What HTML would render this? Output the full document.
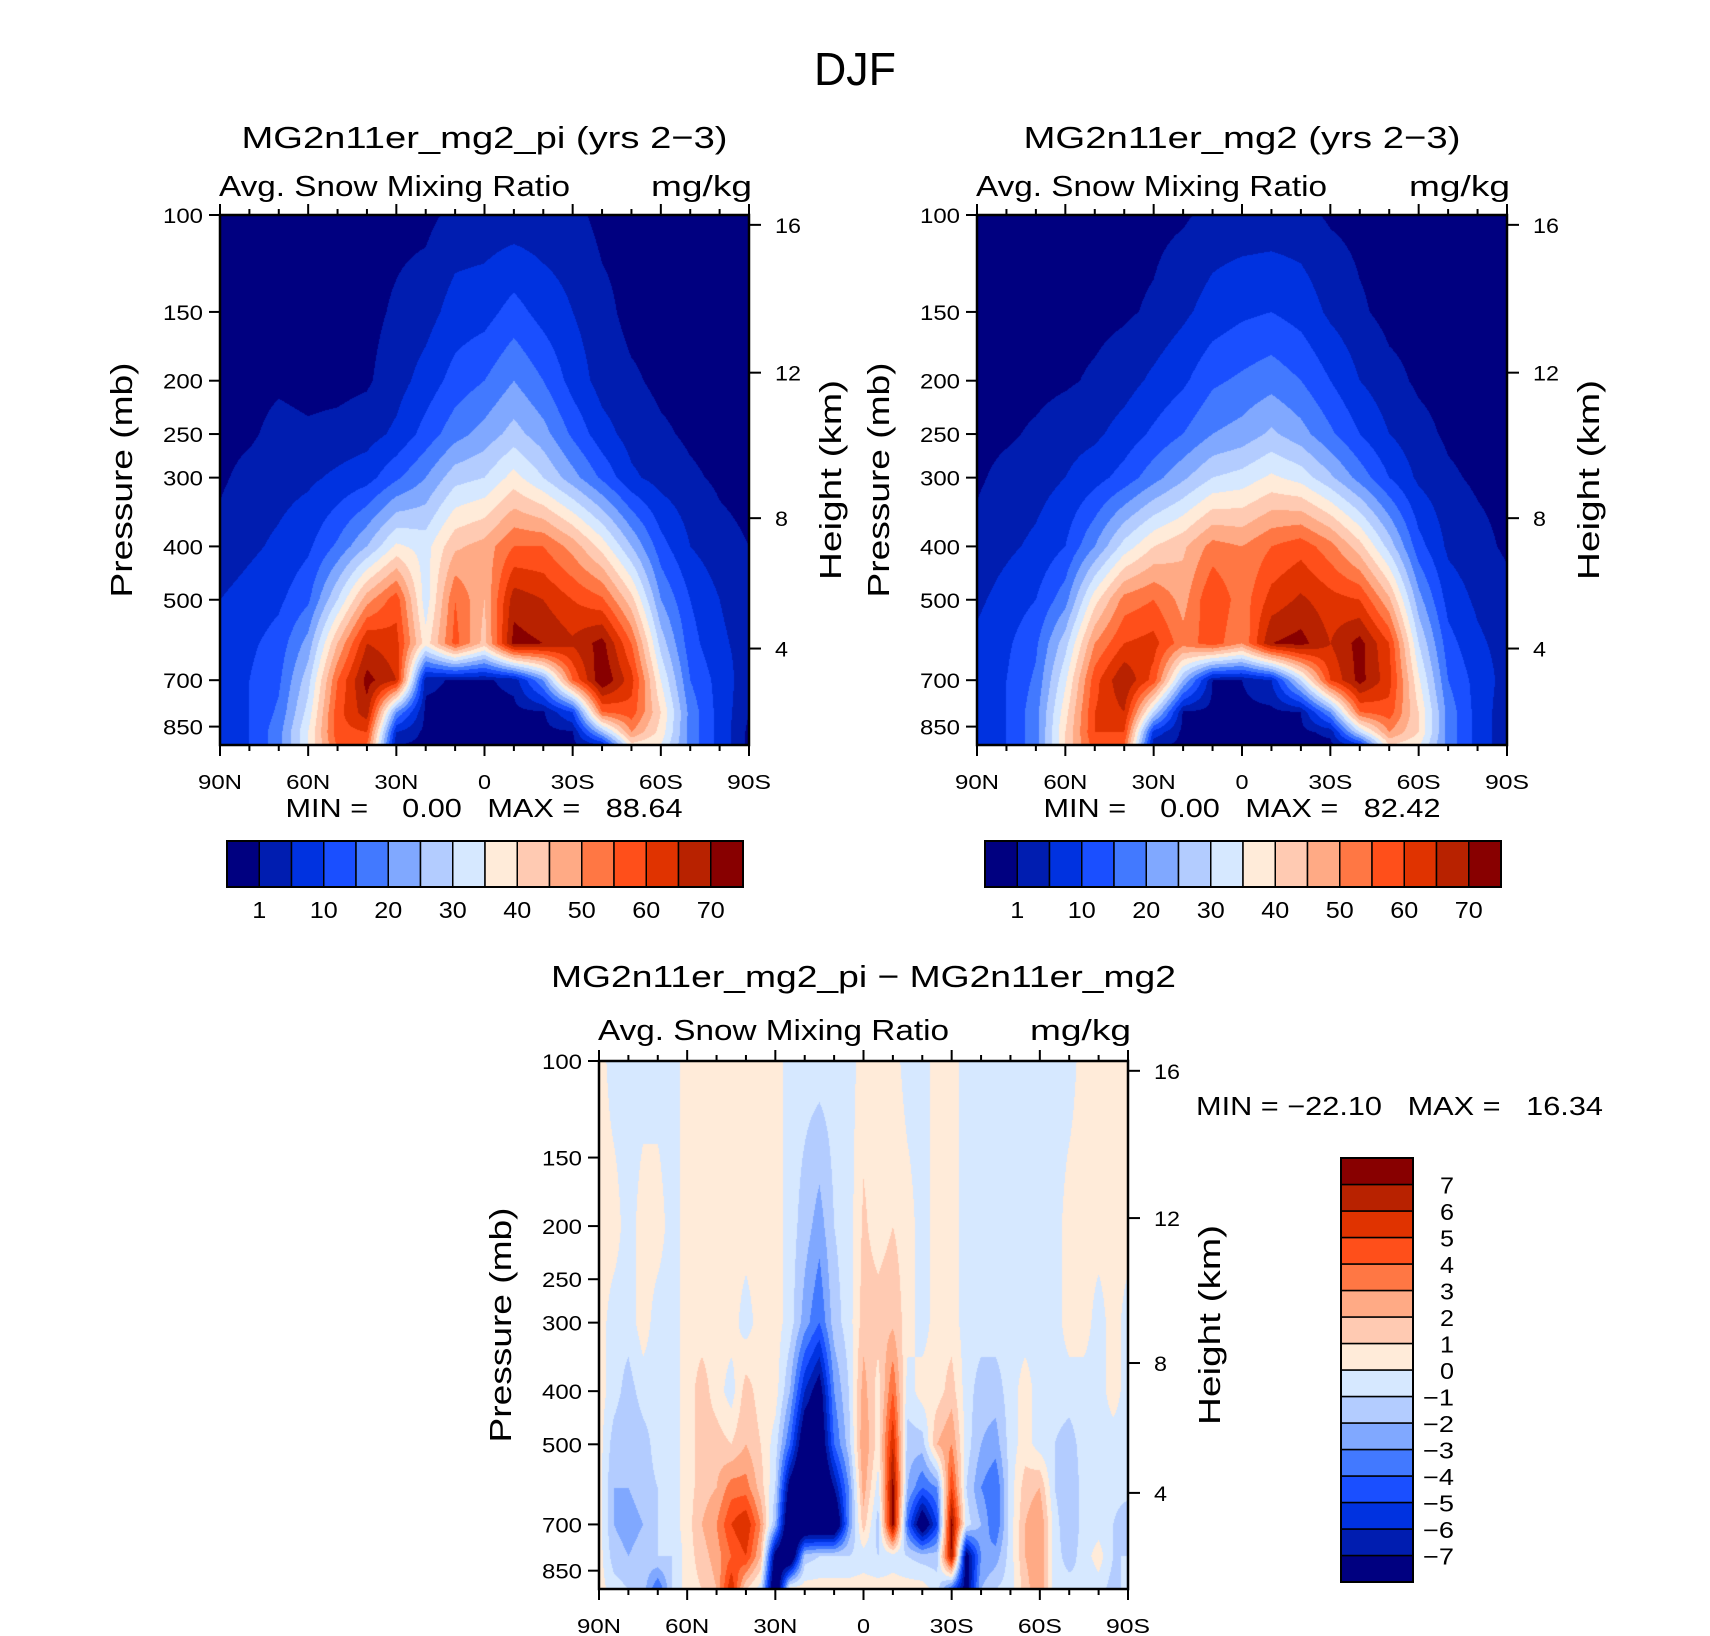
<!DOCTYPE html>
<html><head><meta charset="utf-8">
<style>
body{margin:0;background:#fff;}
#wrap{position:relative;width:1710px;height:1636px;overflow:hidden;background:#fff;}
canvas{position:absolute;}
svg{position:absolute;left:0;top:0;}
text{font-family:"Liberation Sans",sans-serif;fill:#000;}
</style></head>
<body>
<div id="wrap">
<canvas id="c1"></canvas>
<canvas id="c2"></canvas>
<canvas id="c3"></canvas>
<svg id="ov" width="1710" height="1636"></svg>
</div>
<script>
// ---- data ----
const lev = [100,150,200,250,300,400,500,600,700,800,870,918];
const lat10 = [-90,-80,-70,-60,-50,-40,-30,-20,-10,0,10,20,30,40,50,60,70,80,90];
const piVals = [
[0,0,0,0,0,0,0,0,2,2,2,2,2,0,0,0,0,0,0],
[0,0,0,0,0,0,1.5,3,7,8,12,8,5,2,0,0,0,0,0],
[0,0,0.5,0,0,0.5,3,7,12,15,20,15,8,3,1.5,0.3,0,0,0],
[0,0.5,2,1.5,2,3,6,12,18,22,27,22,14,7,3,1.5,0.5,0,0],
[0.5,2,3,4,6,8,14,20,28,30,37,30,22,14,6,3,1.5,0.5,0],
[2,4,6,9,16,25,36,33,44,47,55,55,48,38,25,12,5,2,1],
[5,7,9,14,30,48,58,32,55,45,68,65,60,56,42,20,10,5,2],
[8,9,12,22,45,65,62,37,57,43,72,70,66,72,55,28,12,6,3],
[8,10,14,28,55,72,65,2,0.5,0.5,2,20,55,75,62,35,15,8,2],
[8,10,16,32,58,68,20,0,0,0,0,0.5,10,55,58,40,18,8,1],
[8,10,18,35,58,60,5,0,0,0,0,0,0.5,25,50,38,18,8,0],
[8,10,18,35,56,55,1,0,0,0,0,0,0,5,38,35,18,8,0]];
const mg2Vals = [
[0,0,0,0,0,0,0,0.5,2,2,2,2,0.5,0,0,0,0,0,0],
[0,0,0,0,0,0.5,1.5,4,7,9,10,8,4,1.5,0,0,0,0,0],
[0,0,0,0.5,1.5,3,6,9,14,16,18,15,10,5,2,0.5,0,0,0],
[0,0.5,1.5,3,4,7,11,15,20,22,26,22,16,10,5,2,0.5,0,0],
[0.5,2,3,5,8,12,18,24,30,32,36,33,26,18,10,4,1.5,0.5,0],
[2,4,6,10,20,32,40,44,52,50,55,58,52,42,28,12,4,2,0.5],
[4,7,10,18,38,52,55,48,60,52,62,66,62,60,46,22,8,4,2],
[6,9,14,28,50,60,62,52,58,50,70,72,65,72,60,30,12,6,3],
[7,10,16,34,58,70,58,25,1,1,5,30,60,72,62,36,15,8,3],
[7,10,18,38,60,65,30,0.5,0,0,0,1,20,55,58,40,18,8,2],
[7,10,18,40,60,60,8,0,0,0,0,0,2,30,50,40,18,8,2],
[7,10,18,40,58,55,2,0,0,0,0,0,0,8,40,36,18,8,2]];
const levD = [100,200,300,400,500,600,700,800,918];
const lat5 = [-90,-85,-80,-75,-70,-65,-60,-55,-50,-45,-40,-35,-30,-25,-20,-15,-10,-5,0,5,10,15,20,25,30,35,40,45,50,55,60,65,70,75,80,85,90];
const diffVals = [
[0.5,-0.5,-0.5,-0.5,-0.5,-0.5,0.5,0.5,0.5,0.5,0.5,0.5,0.5,-0.5,-0.5,-0.5,-0.5,-0.5,0.5,0.5,0.5,-0.5,-0.5,0.5,0.5,-0.5,-0.5,-0.5,-0.5,-0.5,-0.5,-0.5,-0.5,0.5,0.5,0.5,0.5],
[0.5,0.5,-0.5,0.5,0.5,-0.5,0.5,0.5,0.5,0.5,0.5,0.5,0.5,-0.5,-1.5,-2.5,-1,-0.5,1.2,0.5,1,0.5,-0.5,0.5,0.5,-0.5,-0.5,-0.5,-0.5,-0.5,-0.5,-0.5,0.5,0.5,0.5,0.5,0.5],
[0.5,-0.5,-0.5,0.5,-0.5,-0.5,0.5,0.5,0.5,0.5,-0.5,0.5,0.5,-0.5,-2.5,-4,-1.5,-0.5,1.5,1.5,1.8,0.5,-0.5,0.5,0.5,-0.5,-0.5,-0.5,-0.5,-0.5,-0.5,-0.5,0.5,0.5,-0.5,0.5,-0.5],
[0.5,-0.5,-1.5,-0.5,-0.5,-0.5,0.5,1.5,0.5,-0.5,1.5,0.5,0.5,-2,-6,-8,-3,-1,2.5,0.5,4,-0.5,0.5,0.5,1.5,-0.5,-1.5,-1.5,-0.5,0.5,-0.5,-0.5,-0.5,-0.5,-0.5,0.5,-0.5],
[0.5,-1.5,-2,-1.5,-0.5,-0.5,0.5,1.5,1.5,1,2,1,-0.5,-4,-9,-9,-4,-1.5,3,0.5,6,-1.5,-1.5,2,3,-0.5,-2,-2.5,-0.5,0.5,-0.5,-1,-1.5,-0.5,-0.5,-0.5,-0.5],
[0.5,-2,-2,-1.5,-1,-0.5,0.5,1.5,2,3.5,3.5,1.5,-1,-8,-10,-10,-7,-3,2.5,-0.5,7.5,-2,-4,-3,5,-1,-3,-4,-0.5,1.5,2,-1,-2,-0.5,-0.5,-0.5,-0.5],
[0.5,-2,-2.5,-2,-1,-0.5,0.5,2,3,5,6,3,-2,-10,-10,-10,-10,-3,1.5,-1.5,7.5,-4,-9,-5,7.5,-0.5,-2,-4,-0.5,2,3,-0.5,-2,-0.5,-0.5,-1,-2],
[0.5,-1.5,-2,-1.5,-1,-1,0.5,1.5,2.5,4,5,2,-8,-10,-1.5,-1,-1,-1,-0.5,-1,-0.5,-1,-1.5,-1.5,7,-8,-3,-2.5,-0.5,2,3,-0.5,-1.5,-0.5,0.5,-1,-1],
[0.5,-0.5,-1,-1.5,-4,-1,0.5,1,2,6,1,-0.5,-10,0.5,0.5,0.5,0.5,0.5,0.5,0.5,0.5,0.5,0.5,-0.5,-4,-8,-2,-1,-0.5,1.5,3,-0.5,-0.5,-1,-0.5,-1.5,-0.5]];
const absLevels = [1,5,10,15,20,25,30,35,40,45,50,55,60,65,70];
const absLabels = ["1","10","20","30","40","50","60","70"];
const diffLevels = [-7,-6,-5,-4,-3,-2,-1,0,1,2,3,4,5,6,7];
const diffLabels = ["−7","−6","−5","−4","−3","−2","−1","0","1","2","3","4","5","6","7"];
const pTicks = [100,150,200,250,300,400,500,700,850];
const latTicks = [-90,-60,-30,0,30,60,90];
const latTickLabels = ["90N","60N","30N","0","30S","60S","90S"];
const hTickLabels = ["16","12","8","4"];
const colors = ["#000080","#001db0","#0032e0","#1a4fff","#4279ff","#80a8ff","#b3ccff","#d6e8ff","#ffebd9","#ffcab2","#ffaa85","#ff7744","#ff4f1a","#e03300","#b82200","#880000"];

// ---- layout ----
const PBOT = 918;
const hFrac = [0.0186,0.2975,0.572,0.818];
const panels = [
 {id:"c1",x:220,y:215,w:529,h:530,vals:piVals,lats:lat10,levs:lev,levels:absLevels,name:"pi"},
 {id:"c2",x:977,y:215,w:530,h:530,vals:mg2Vals,lats:lat10,levs:lev,levels:absLevels,name:"mg2"},
 {id:"c3",x:599,y:1061,w:529,h:528,vals:diffVals,lats:lat5,levs:levD,levels:diffLevels,name:"diff"}
];
const yOfP=(P,p)=>P.y+P.h*(Math.log10(p)-2)/(Math.log10(PBOT)-2);
const xOfLat=(P,l)=>P.x+P.w*(l+90)/180;

function interp(arr,v){
  if(v<=arr[0])return [0,0];
  for(let i=0;i<arr.length-1;i++){ if(v<=arr[i+1]) return [i,(v-arr[i])/(arr[i+1]-arr[i])]; }
  return [arr.length-2,1];
}
function classify(levels,v){let k=0;while(k<levels.length&&v>=levels[k])k++;return k;}
function hexToRgb(h){return [parseInt(h.substr(1,2),16),parseInt(h.substr(3,2),16),parseInt(h.substr(5,2),16)];}
const rgb=colors.map(hexToRgb);

panels.forEach(P=>{
  const c=document.getElementById(P.id);
  c.width=P.w;c.height=P.h;c.style.left=P.x+"px";c.style.top=P.y+"px";
  const ctx=c.getContext("2d");const img=ctx.createImageData(P.w,P.h);
  const lg=P.levs.map(p=>Math.log10(p));
  for(let j=0;j<P.h;j++){
    const lp=2+(j+0.5)/P.h*(Math.log10(PBOT)-2);
    const [ri,rf]=interp(lg,lp);
    for(let i=0;i<P.w;i++){
      const la=-90+(i+0.5)/P.w*180;
      const [ci,cf]=interp(P.lats,la);
      const a=P.vals[ri][ci],b=P.vals[ri][ci+1],cc=P.vals[ri+1][ci],d=P.vals[ri+1][ci+1];
      const v=(a*(1-cf)+b*cf)*(1-rf)+(cc*(1-cf)+d*cf)*rf;
      const col=rgb[classify(P.levels,v)];
      const o=(j*P.w+i)*4;img.data[o]=col[0];img.data[o+1]=col[1];img.data[o+2]=col[2];img.data[o+3]=255;
    }
  }
  ctx.putImageData(img,0,0);
});

// ---- overlay ----
const NS="http://www.w3.org/2000/svg";
const svg=document.getElementById("ov");
function el(tag,attrs,parent){const e=document.createElementNS(NS,tag);for(const k in attrs)e.setAttribute(k,attrs[k]);(parent||svg).appendChild(e);return e;}
function txt(s,x,y,size,anchor,parent,rot,len){const t=el("text",{x:x,y:y,"font-size":size,"text-anchor":anchor||"middle"},parent);if(rot)t.setAttribute("transform","rotate(-90 "+x+" "+y+")");if(len){t.setAttribute("textLength",len);t.setAttribute("lengthAdjust","spacingAndGlyphs");}t.textContent=s;return t;}

const ttl=txt("DJF",855,85,46,"middle",null,false,82);



function axes(P,title,titleY,subY,titleLen){
  const g=el("g",{});
  
  
  const t=txt(title,P.x+P.w/2,titleY,31,"middle",g,false,titleLen);
  
  
  const s1=txt("Avg. Snow Mixing Ratio",P.x-1,subY,29,"start",g,false,351);
  
  
  const s2=txt("mg/kg",P.x+P.w+3,subY,29,"end",g,false,101);
  
  
  el("rect",{x:P.x,y:P.y,width:P.w,height:P.h,fill:"none",stroke:"#000","stroke-width":2.5},g);
  for(let l=-90;l<=90;l+=10){
    const x=xOfLat(P,l);const major=(l%30===0);const L=major?11:6;
    el("line",{x1:x,y1:P.y+P.h,x2:x,y2:P.y+P.h+L,stroke:"#000","stroke-width":2},g);
    el("line",{x1:x,y1:P.y,x2:x,y2:P.y-L,stroke:"#000","stroke-width":2},g);
  }
  latTicks.forEach((l,i)=>{
    const s=latTickLabels[i];
    const lb=txt(s,xOfLat(P,l),P.y+P.h+44,20,"middle",g,false,s.length===1?13:44);
    
    
  });
  pTicks.forEach(p=>{
    const y=yOfP(P,p);
    el("line",{x1:P.x,y1:y,x2:P.x-11,y2:y,stroke:"#000","stroke-width":2},g);
    const lb=txt(String(p),P.x-17,y+8,21,"end",g,false,40);
    
    
  });
  hTickLabels.forEach((h,i)=>{
    const y=P.y+P.h*hFrac[i];
    el("line",{x1:P.x+P.w,y1:y,x2:P.x+P.w+12,y2:y,stroke:"#000","stroke-width":2},g);
    const lb=txt(h,P.x+P.w+26,y+8,21,"start",g,false,h.length*13);
    
    
  });
  const yt=txt("Pressure (mb)",P.x-88,P.y+P.h*0.5,31,"middle",g,true,235);
  
  
  const ht=txt("Height (km)",P.x+P.w+92,P.y+P.h*0.5,31,"middle",g,true,200);
  
  
}
axes(panels[0],"MG2n11er_mg2_pi (yrs 2−3)",148,196,486);
axes(panels[1],"MG2n11er_mg2 (yrs 2−3)",148,196,437);
axes(panels[2],"MG2n11er_mg2_pi − MG2n11er_mg2",987,1040,625);

function minmax(s,x,y,anchor,len){const t=el("text",{x:x,y:y,"font-size":26,"text-anchor":anchor,"textLength":len,"lengthAdjust":"spacingAndGlyphs"});t.style.whiteSpace="pre";t.textContent=s;

}
minmax("MIN =    0.00   MAX =   88.64",484,817,"middle",397);
minmax("MIN =    0.00   MAX =   82.42",1242,817,"middle",397);
minmax("MIN = −22.10   MAX =   16.34",1196,1115,"start",407);

function hbar(x0,y0,w,h){
  const g=el("g",{});
  
  
  const bw=w/16;
  colors.forEach((c,i)=>{el("rect",{x:x0+i*bw,y:y0,width:bw,height:h,fill:c,stroke:"#000","stroke-width":1.5},g);});
  el("rect",{x:x0,y:y0,width:w,height:h,fill:"none",stroke:"#000","stroke-width":2},g);
  absLabels.forEach((s,k)=>{const t=txt(s,x0+(2*k+1)*bw,y0+h+31,23,"middle",g,false,s.length*14);
    
    });
}
hbar(227,841,516,46);
hbar(985,841,516,46);
(function(){
  const x0=1341,y0=1158,w=72,h=424,bh=h/16;
  const g=el("g",{});
  
  
  colors.forEach((c,i)=>{el("rect",{x:x0,y:y0+(15-i)*bh,width:w,height:bh,fill:c,stroke:"#000","stroke-width":1.5},g);});
  el("rect",{x:x0,y:y0,width:w,height:h,fill:"none",stroke:"#000","stroke-width":2},g);
  diffLabels.forEach((s,k)=>{const t=txt(s,1454,y0+(15-k)*bh+9,23,"end",g,false,s.length===1?14:31);
    
    });
})();
</script>
</body></html>
